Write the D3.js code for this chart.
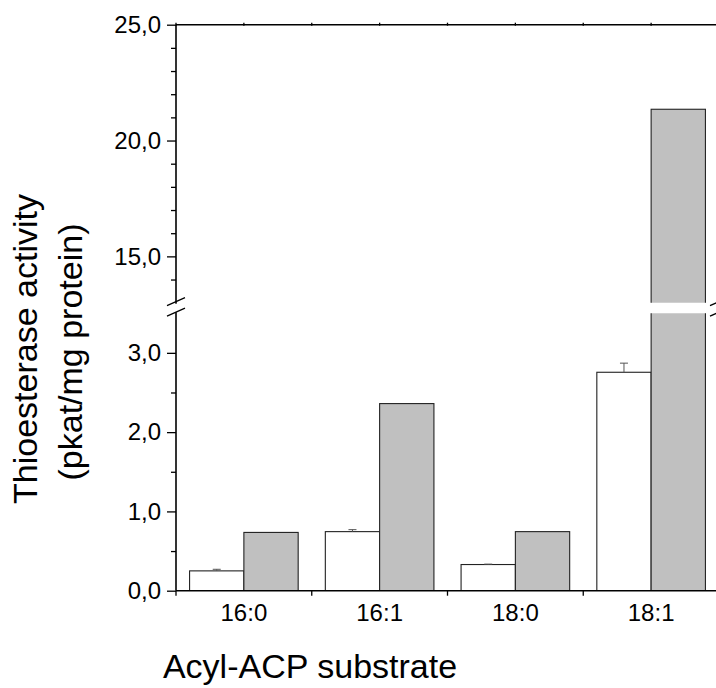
<!DOCTYPE html>
<html>
<head>
<meta charset="utf-8">
<script src="https://cdn.jsdelivr.net/npm/d3@7"></script>
<style>
  body { margin: 0; background: #fff; }
  text { font-family: "Liberation Sans", Arial, sans-serif; fill: #000; }
</style>
</head>
<body>
<svg id="chart" width="716" height="688"></svg>
<script>
// data
var categories = ["16:0", "16:1", "18:0", "18:1"];
var series = ["white", "grey"];
var whiteVals = [0.25, 0.745, 0.33, 2.755];
var whiteErr = [0.02, 0.025, 0.005, 0.115];
var greyVals = [0.735, 2.36, 0.745, 21.35];

var lowerMajor = [0, 1, 2, 3];
var lowerMinor = [0.5, 1.5, 2.5];
var upperMajor = [15, 20, 25];
var upperMinor = [14, 16, 17, 18, 19, 21, 22, 23, 24];

var width = 716, height = 688;
var svg = d3.select("#chart");

// layout
var x_left = 176, x_right = 719;
var y_bottom = 590.7;
var lower_top = 313.2, upper_bottom = 302.7, y_top = 24.7;
var tick_font = "24px";

var fmt = function(d) { return d3.format(".1f")(d).replace(".", ","); };

var x = d3.scaleBand()
    .domain(categories)
    .range([x_left, x_right]);

var xSub = d3.scaleBand()
    .domain(series)
    .range([x.bandwidth() * 0.1, x.bandwidth() * 0.9]);

var yLow = d3.scaleLinear().domain([0, 3.5]).range([y_bottom, lower_top]);
var yUp = d3.scaleLinear().domain([13, 25]).range([upper_bottom, y_top]);

// clip regions for the two segments
var defs = svg.append("defs");
defs.append("clipPath").attr("id", "clipLow")
  .append("rect").attr("x", 0).attr("y", lower_top).attr("width", width).attr("height", y_bottom - lower_top);
defs.append("clipPath").attr("id", "clipUp")
  .append("rect").attr("x", 0).attr("y", y_top).attr("width", width).attr("height", upper_bottom - y_top);

var rows = categories.map(function(c, i) {
  return { cat: c, white: whiteVals[i], err: whiteErr[i], grey: greyVals[i] };
});

function drawBars(g, y) {
  var grp = g.selectAll(".grp")
    .data(rows)
    .enter().append("g")
      .attr("transform", function(d) { return "translate(" + x(d.cat) + ",0)"; });

  grp.append("rect")
    .attr("x", xSub("white"))
    .attr("width", xSub.bandwidth())
    .attr("y", function(d) { return y(d.white); })
    .attr("height", function(d) { return Math.max(0, y.range()[0] + 20 - y(d.white)); })
    .attr("fill", "#fff")
    .attr("stroke", "#222")
    .attr("stroke-width", 1.1);

  grp.append("rect")
    .attr("x", xSub("grey"))
    .attr("width", xSub.bandwidth())
    .attr("y", function(d) { return y(d.grey); })
    .attr("height", function(d) { return Math.max(0, y.range()[0] + 20 - y(d.grey)); })
    .attr("fill", "#c0c0c0")
    .attr("stroke", "#222")
    .attr("stroke-width", 1.1);

  // error bars on the white bars
  var cx = xSub("white") + xSub.bandwidth() / 2;
  grp.append("line")
    .attr("x1", cx).attr("x2", cx)
    .attr("y1", function(d) { return y(d.white); })
    .attr("y2", function(d) { return y(d.white + d.err); })
    .attr("stroke", "#555");
  grp.append("line")
    .attr("x1", cx - 4).attr("x2", cx + 4)
    .attr("y1", function(d) { return y(d.white + d.err); })
    .attr("y2", function(d) { return y(d.white + d.err); })
    .attr("stroke", "#555");
}

drawBars(svg.append("g").attr("clip-path", "url(#clipLow)"), yLow);
drawBars(svg.append("g").attr("clip-path", "url(#clipUp)"), yUp);

// y axes (lower + upper segment)
function yAxis(scale, major, minor) {
  var gMaj = svg.append("g")
    .attr("transform", "translate(" + x_left + ",0)")
    .call(d3.axisLeft(scale).tickValues(major).tickSize(9).tickPadding(6).tickFormat(fmt));
  gMaj.select(".domain").remove();
  gMaj.selectAll("text").style("font-size", tick_font).style("font-family", "Liberation Sans, Arial, sans-serif");
  gMaj.selectAll("line").attr("stroke", "#000").attr("stroke-width", 1.3);

  var gMin = svg.append("g")
    .attr("transform", "translate(" + x_left + ",0)")
    .call(d3.axisLeft(scale).tickValues(minor).tickSize(5).tickFormat(""));
  gMin.select(".domain").remove();
  gMin.selectAll("line").attr("stroke", "#000").attr("stroke-width", 1.3);
}
yAxis(yLow, lowerMajor, lowerMinor);
yAxis(yUp, upperMajor, upperMinor);

// axis lines (frame)
svg.append("line")
  .attr("x1", x_left).attr("x2", x_left)
  .attr("y1", y_top).attr("y2", y_bottom)
  .attr("stroke", "#000").attr("stroke-width", 1.6);
svg.append("line")
  .attr("x1", x_left).attr("x2", x_right)
  .attr("y1", y_bottom).attr("y2", y_bottom)
  .attr("stroke", "#000").attr("stroke-width", 1.6);
svg.append("line")
  .attr("x1", x_left).attr("x2", x_right)
  .attr("y1", y_top).attr("y2", y_top)
  .attr("stroke", "#000").attr("stroke-width", 1.6);
svg.append("line")
  .attr("x1", x_right).attr("x2", x_right)
  .attr("y1", y_top).attr("y2", y_bottom)
  .attr("stroke", "#000").attr("stroke-width", 1.6);

// x axis: labels at band centres, ticks at band edges
var gx = svg.append("g")
  .attr("transform", "translate(0," + y_bottom + ")")
  .call(d3.axisBottom(x).tickSize(0).tickPadding(13));
gx.select(".domain").remove();
gx.selectAll("text").style("font-size", tick_font).style("font-family", "Liberation Sans, Arial, sans-serif");

var edges = categories.map(function(c) { return x(c); }).concat([x_right]);
svg.selectAll(".xedge")
  .data(edges)
  .enter().append("line")
    .attr("x1", function(d) { return d; }).attr("x2", function(d) { return d; })
    .attr("y1", y_bottom).attr("y2", y_bottom + 5)
    .attr("stroke", "#000").attr("stroke-width", 1.3);

// small ticks on the top frame
var topTicks = edges.concat(categories.map(function(c) { return x(c) + x.bandwidth() / 2; }));
svg.selectAll(".xtop")
  .data(topTicks)
  .enter().append("line")
    .attr("x1", function(d) { return d; }).attr("x2", function(d) { return d; })
    .attr("y1", y_top - 2).attr("y2", y_top + 1)
    .attr("stroke", "#000").attr("stroke-width", 1.3);

// white gap across the break on the axis lines
[x_left, x_right].forEach(function(ax) {
  svg.append("rect")
    .attr("x", ax - 2).attr("y", upper_bottom + 1)
    .attr("width", 4).attr("height", lower_top - upper_bottom - 2)
    .attr("fill", "#fff");
  [upper_bottom - 1, lower_top - 1].forEach(function(yy) {
    svg.append("line")
      .attr("x1", ax - 9).attr("y1", yy + 4)
      .attr("x2", ax + 9).attr("y2", yy - 4)
      .attr("stroke", "#000").attr("stroke-width", 1.3);
  });
});

// axis titles
svg.append("text")
  .attr("x", 310)
  .attr("y", 678)
  .style("text-anchor", "middle")
  .style("font-size", "34px")
  .text("Acyl-ACP substrate");

svg.append("text")
  .attr("transform", "translate(37,349) rotate(-90)")
  .style("text-anchor", "middle")
  .style("font-size", "34px")
  .text("Thioesterase activity");

svg.append("text")
  .attr("transform", "translate(82,352) rotate(-90)")
  .style("text-anchor", "middle")
  .style("font-size", "34px")
  .text("(pkat/mg protein)");
</script>
</body>
</html>
